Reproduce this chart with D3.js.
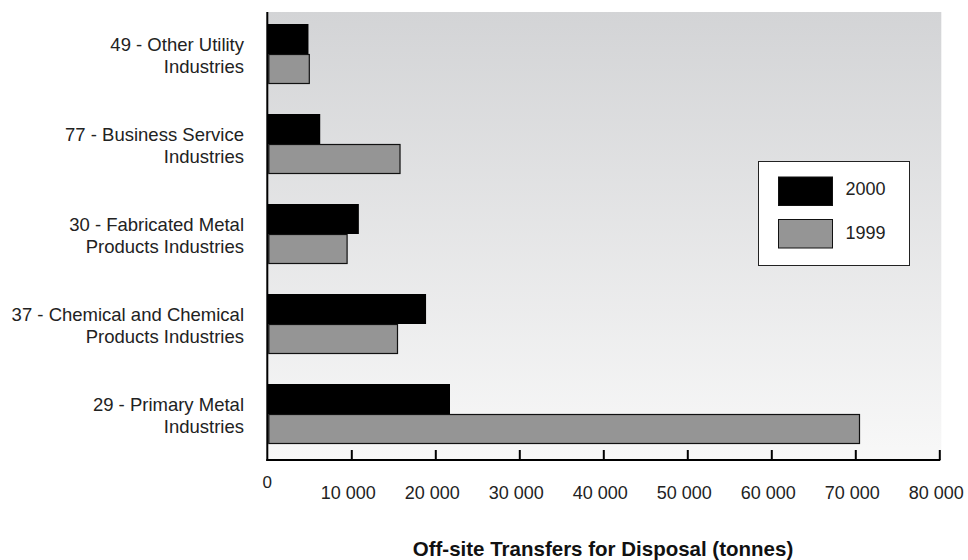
<!DOCTYPE html>
<html><head><meta charset="utf-8">
<script src="https://cdn.jsdelivr.net/npm/d3@7"></script>
<style>body{margin:0;background:#fff}svg{display:block;font-family:"Liberation Sans",Arial,Helvetica,sans-serif}</style>
</head><body><svg id="c" width="968" height="560"></svg>
<script>
const categories = [
  ["49 - Other Utility","Industries"],
  ["77 - Business Service","Industries"],
  ["30 - Fabricated Metal","Products Industries"],
  ["37 - Chemical and Chemical","Products Industries"],
  ["29 - Primary Metal","Industries"]
];
const seriesNames = ["2000","1999"];
const values2000 = [4900, 6300, 10900, 18900, 21750];
const values1999 = [5000, 15800, 9500, 15500, 70500];
const xTicks = [0,10000,20000,30000,40000,50000,60000,70000,80000];
const xTitle = "Off-site Transfers for Disposal (tonnes)";

const svg = d3.select("#c");
const L=267.3, R=939.3, T=12, B=460;
const x = d3.scaleLinear().domain([0,80000]).range([L,R]);
const y = d3.scaleBand().domain(d3.range(categories.length)).range([9,459]).paddingInner(1/3).paddingOuter(1/6);
const ys = d3.scaleBand().domain(seriesNames).range([0,y.bandwidth()]);
const fills = {"2000":"#000","1999":"#959595"};

const defs = svg.append("defs");
const g = defs.append("linearGradient").attr("id","bg").attr("x1",0).attr("x2",0).attr("y1",0).attr("y2",1);
g.append("stop").attr("offset","0%").attr("stop-color","#d3d4d6");
g.append("stop").attr("offset","100%").attr("stop-color","#f8f8f8");
svg.append("rect").attr("x",L).attr("y",T).attr("width",R-L+2).attr("height",B-T).attr("fill","url(#bg)");

const data = [];
categories.forEach((c,i)=>{
  data.push({i, s:"2000", v:values2000[i]});
  data.push({i, s:"1999", v:values1999[i]});
});
svg.selectAll("rect.bar").data(data).enter().append("rect")
  .attr("class","bar")
  .attr("x", d=>x(0)+ (d.s==="1999"?1.5:0))
  .attr("y", d=>y(d.i)+ys(d.s)+(d.s==="1999"?0.5:0))
  .attr("width", d=>x(d.v)-x(0)-(d.s==="1999"?1.5:0))
  .attr("height", d=>ys.bandwidth()-(d.s==="1999"?1:0))
  .attr("fill", d=>fills[d.s])
  .attr("stroke", d=>d.s==="1999"?"#111":"none")
  .attr("stroke-width",1.2);

// axes
const xAxis = d3.axisBottom(x).tickValues(xTicks.slice(1)).tickSize(-10).tickFormat("");
const ax = svg.append("g").attr("transform",`translate(0,${B})`).call(xAxis);
ax.select(".domain").remove();
ax.selectAll(".tick line").attr("stroke","#000").attr("stroke-width",2);
svg.append("line").attr("x1",L-1).attr("x2",R+1).attr("y1",B).attr("y2",B).attr("stroke","#000").attr("stroke-width",2);
svg.append("line").attr("x1",L).attr("x2",L).attr("y1",T).attr("y2",B+1).attr("stroke","#000").attr("stroke-width",2);

const fmt = v => d3.format(",")(v).replace(/,/g," ");
svg.selectAll("text.tick").data(xTicks).enter().append("text")
  .attr("x", d=>x(d)-(d===0?0:3))
  .attr("y", d=> d===0?488:499)
  .attr("text-anchor","middle").attr("font-size",d=>d===0?17:18).attr("fill","#222")
  .text(fmt);

// category labels
categories.forEach((c,i)=>{
  const cy = y(i)+y.bandwidth()/2;
  const t = svg.append("text").attr("x",244).attr("y",cy-2.6).attr("text-anchor","end").attr("font-size",18.5).attr("fill","#222");
  t.append("tspan").attr("x",244).attr("dy",0).text(c[0]);
  t.append("tspan").attr("x",244).attr("dy",21.6).text(c[1]);
});

svg.append("text").attr("x",603).attr("y",555.5).attr("text-anchor","middle")
  .attr("font-size",20.5).attr("font-weight","bold").attr("fill","#111").text(xTitle);

// legend
const lg = svg.append("g");
lg.append("rect").attr("x",758.5).attr("y",161.5).attr("width",151).attr("height",104).attr("fill","#fff").attr("stroke","#222").attr("stroke-width",1);
seriesNames.forEach((s,k)=>{
  lg.append("rect").attr("x",778.5).attr("y",177+k*42.5).attr("width",54).attr("height",28.5)
    .attr("fill",fills[s]).attr("stroke","#111").attr("stroke-width",1);
  lg.append("text").attr("x",845.5).attr("y",194.5+k*44).attr("font-size",18).attr("fill","#222").text(s);
});
</script></body></html>
